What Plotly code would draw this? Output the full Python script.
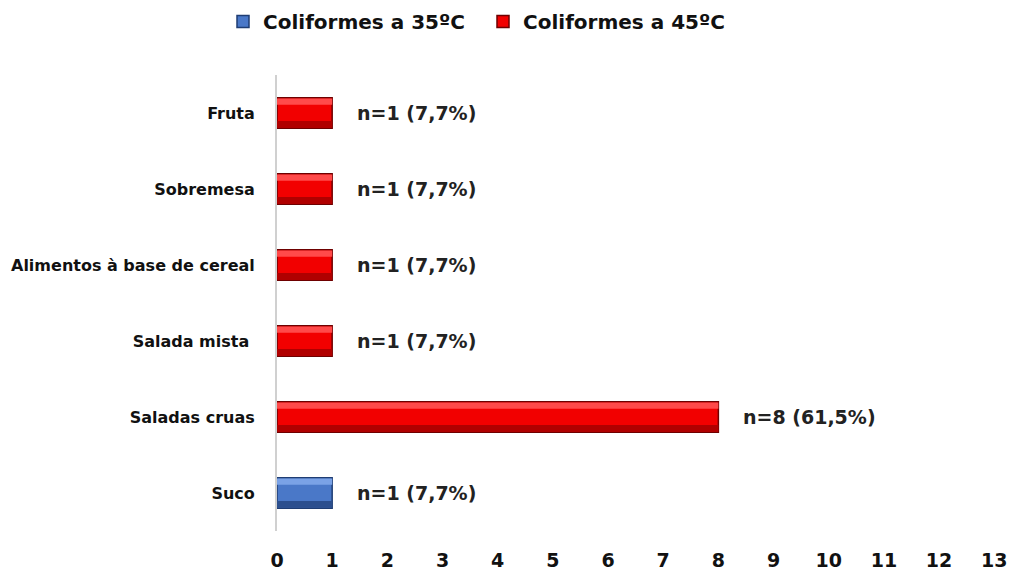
import plotly.graph_objects as go

categories = ["Suco", "Saladas cruas", "Salada mista ", "Alimentos à base de cereal", "Sobremesa", "Fruta"]
coli35 = [1, None, None, None, None, None]
coli45 = [None, 8, 1, 1, 1, 1]
labels = ["n=1 (7,7%)", "n=8 (61,5%)", "n=1 (7,7%)", "n=1 (7,7%)", "n=1 (7,7%)", "n=1 (7,7%)"]
values = [1, 8, 1, 1, 1, 1]
x_ticks = list(range(0, 14))

FONT = "DejaVu Sans"
BW = 0.4

fig = go.Figure()

def bevel(vals, base, light, dark, edge, name):
    fig.add_trace(go.Bar(y=categories, x=vals, orientation="h", name=name, width=BW,
                         marker=dict(color=base, line=dict(color=edge, width=1.5)),
                         showlegend=True))
    fig.add_trace(go.Bar(y=categories, x=vals, orientation="h", width=0.08, offset=0.11,
                         marker=dict(color=light, line=dict(width=0)), showlegend=False,
                         hoverinfo="skip"))
    fig.add_trace(go.Bar(y=categories, x=vals, orientation="h", width=0.09, offset=-0.195,
                         marker=dict(color=dark, line=dict(width=0)), showlegend=False,
                         hoverinfo="skip"))

bevel(coli35, "#4a78c8", "#7aa2e6", "#2c4f8e", "#1f3d73", "Coliformes a 35ºC")
bevel(coli45, "#f20000", "#ff4a4a", "#b00000", "#6e0000", "Coliformes a 45ºC")

for c, v, t in zip(categories, values, labels):
    fig.add_annotation(x=v, y=c, text=t, showarrow=False, xanchor="left", xshift=23,
                       font=dict(family=FONT, size=19, color="#222222", weight="bold"))

fig.update_layout(
    width=1010, height=564,
    barmode="overlay",
    paper_bgcolor="white", plot_bgcolor="white",
    margin=dict(l=269, r=21, t=67, b=41, autoexpand=False),
    font=dict(family=FONT, color="#111111"),
    legend=dict(orientation="h", x=-0.075, y=1.16,
                xanchor="left", yanchor="top", entrywidth=215,
                font=dict(family=FONT, size=20, color="#111111", weight="bold"),
                itemwidth=30, tracegroupgap=0),
    xaxis=dict(range=[0, 13.05], tickvals=x_ticks, showgrid=False, zeroline=False,
               showline=False, ticks="", ticklabelstandoff=16, automargin=False,
               tickfont=dict(family=FONT, size=19, color="#111111", weight="bold")),
    yaxis=dict(showgrid=False, zeroline=False, showline=True, linecolor="#d0d0d0",
               linewidth=2, ticks="", ticklabelstandoff=17, automargin=False,
               categoryorder="array", categoryarray=categories,
               tickfont=dict(family=FONT, size=16, color="#111111", weight="bold")),
)

fig.write_html("out.html")
